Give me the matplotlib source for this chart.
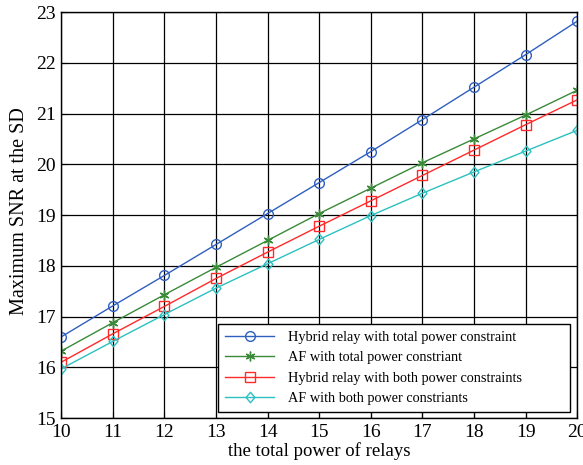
import numpy as np
import matplotlib.pyplot as plt
from matplotlib.path import Path

power = [10, 11, 12, 13, 14, 15, 16, 17, 18, 19, 20]
hybrid_total = [16.60, 17.21, 17.81, 18.42, 19.03, 19.64, 20.25, 20.88, 21.52, 22.16, 22.82]
af_total = [16.32, 16.88, 17.43, 17.97, 18.50, 19.03, 19.53, 20.03, 20.50, 20.97, 21.46]
hybrid_both = [16.10, 16.66, 17.20, 17.75, 18.27, 18.78, 19.28, 19.78, 20.28, 20.78, 21.27]
af_both = [15.97, 16.51, 17.04, 17.56, 18.04, 18.52, 18.99, 19.43, 19.85, 20.26, 20.67]
labels = ['Hybrid relay with total power constraint',
          'AF with total power constriant',
          'Hybrid relay with both power constraints',
          'AF with both power constriants']

plt.rcParams['font.family'] = ['Liberation Serif', 'DejaVu Serif']

# matlab-like diamond, a bit narrower than tall
diamond = Path([(0, 1), (0.85, 0), (0, -1), (-0.85, 0), (0, 1)],
               [Path.MOVETO, Path.LINETO, Path.LINETO, Path.LINETO, Path.CLOSEPOLY])

fig = plt.figure(figsize=(5.83, 4.65), dpi=100)
ax = fig.add_axes([0.105, 0.101, 0.885, 0.873])

ax.plot(power, hybrid_total, color='#2f5fbf', marker='o', markersize=7,
        markerfacecolor='none', lw=1, label=labels[0])
ax.plot(power, af_total, color='#3a8a3a', marker=(6, 2, 0), markersize=7,
        lw=1, label=labels[1])
ax.plot(power, hybrid_both, color='#ff2a2a', marker='s', markersize=6.5,
        markerfacecolor='none', lw=1, label=labels[2])
ax.plot(power, af_both, color='#2cc0c0', marker=diamond, markersize=7.5,
        markerfacecolor='none', lw=1, label=labels[3])

ax.set_xlim(10, 20)
ax.set_ylim(15, 23)
ax.set_xticks(np.arange(10, 21, 1))
ax.set_yticks(np.arange(15, 24, 1))
ax.grid(True, color='black', lw=0.9, ls='-')
ax.tick_params(labelsize=14, direction='in', length=4, pad=4)
for s in ax.spines.values():
    s.set_linewidth(1)
ax.set_xlabel('the total power of relays', fontsize=13.5, labelpad=1)
ax.set_ylabel('Maximum SNR at the SD', fontsize=14.5)
ax.yaxis.set_label_coords(-0.062, 0.51)

leg = ax.legend(loc='lower left', bbox_to_anchor=(0.304, 0.015, 0.682, 0.23),
                mode='expand', fontsize=10.3, fancybox=False, framealpha=1,
                edgecolor='black', handlelength=3.4, handletextpad=1.0,
                borderpad=0.5, labelspacing=0.5, borderaxespad=0)
leg.get_frame().set_linewidth(1)

fig.savefig('out.png', dpi=100)
